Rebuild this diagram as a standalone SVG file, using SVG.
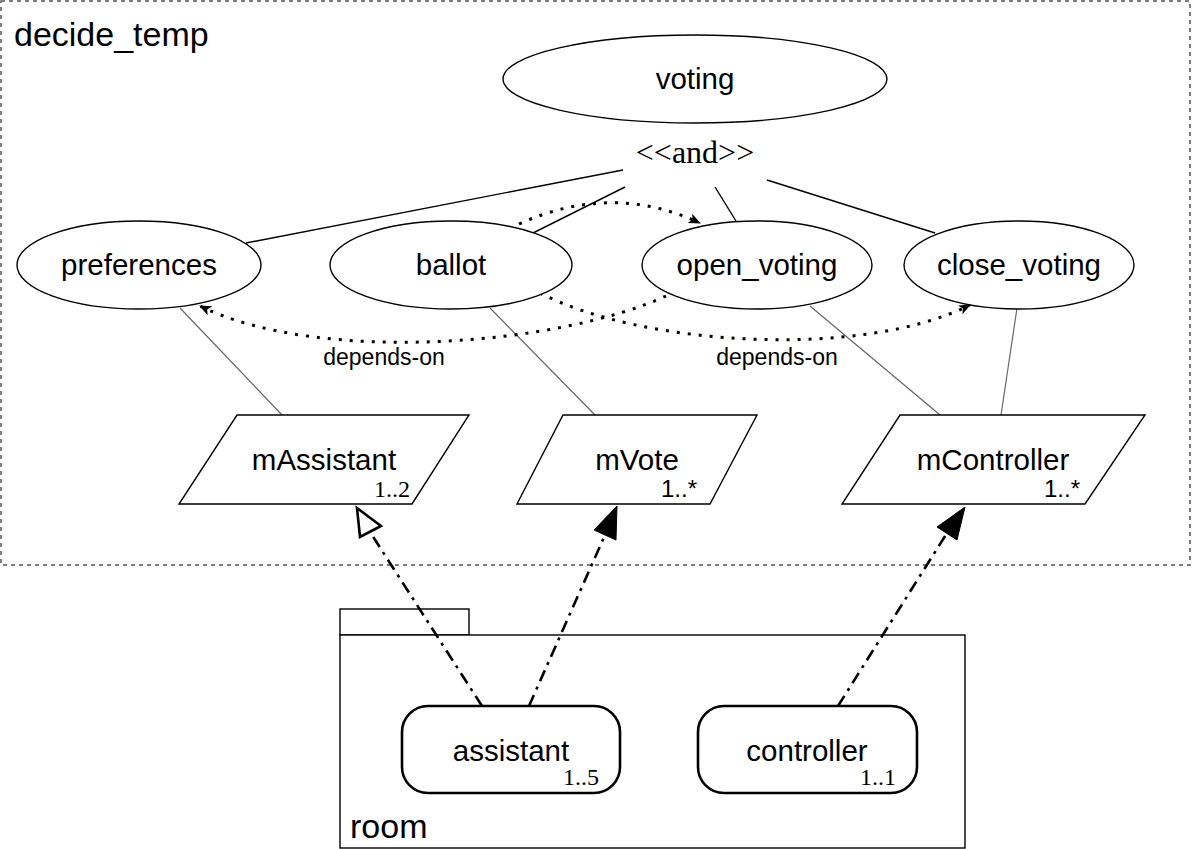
<svg xmlns="http://www.w3.org/2000/svg" width="1193" height="849" viewBox="0 0 1193 849">
  <style>
    .sans { font-family: "Liberation Sans", Arial, sans-serif; fill: #000; }
    .serif { font-family: "Liberation Serif", "Times New Roman", serif; fill: #000; }
    .lbl { font-size: 29.5px; text-anchor: middle; }
    .mult { font-size: 24px; text-anchor: end; }
    .shape { fill: #fff; stroke: #000; stroke-width: 1.4; }
    .assoc { stroke: #000; stroke-width: 1.4; fill: none; }
    .bind { stroke: #666; stroke-width: 1.2; fill: none; }
    .dep { stroke: #000; stroke-width: 3; fill: none; stroke-dasharray: 3 8; }
    .real { stroke: #000; stroke-width: 2.6; fill: none; stroke-dasharray: 12 6 3 6; }
  </style>
  <defs>
    <marker id="depHead" viewBox="0 0 12 10" refX="11" refY="5" markerWidth="12" markerHeight="10" markerUnits="userSpaceOnUse" orient="auto">
      <path d="M0,0 L12,5 L0,10 L3,5 Z" fill="#000"/>
    </marker>
  </defs>

  <rect width="1193" height="849" fill="#fff"/>

  <!-- decide_temp boundary -->
  <g id="decide_temp">
    <rect x="1" y="1" width="1189" height="564" fill="none" stroke="#555" stroke-width="1.5" stroke-dasharray="4 4"/>
    <text class="sans" x="14" y="46" font-size="34">decide_temp</text>
  </g>

  <!-- room package -->
  <g id="room">
    <rect class="shape" x="340" y="609" width="129" height="26"/>
    <rect class="shape" x="340" y="635" width="625" height="213"/>
    <text class="sans" x="350" y="838" font-size="34">room</text>
  </g>

  <!-- connectors -->
  <g id="connectors">
    <!-- and-decomposition -->
    <line class="assoc" x1="623" y1="170" x2="246" y2="243"/>
    <line class="assoc" x1="625" y1="187" x2="527" y2="236"/>
    <line class="assoc" x1="715" y1="187" x2="736" y2="221"/>
    <line class="assoc" x1="767" y1="180" x2="935" y2="233"/>
    <!-- role bindings -->
    <line class="bind" x1="180" y1="308" x2="282" y2="415"/>
    <line class="bind" x1="490" y1="308" x2="595" y2="415"/>
    <line class="bind" x1="810" y1="306" x2="940" y2="415"/>
    <line class="bind" x1="1017" y1="308" x2="1001" y2="415"/>
    <!-- depends-on -->
    <path class="dep" d="M519,224 Q612,182 700,223" marker-end="url(#depHead)"/>
    <path class="dep" d="M666,296 C560,345 320,365 200,306" marker-end="url(#depHead)"/>
    <path class="dep" d="M540,293 C640,345 860,360 970,305" marker-end="url(#depHead)"/>
    <text class="sans" x="384" y="365" font-size="23" text-anchor="middle">depends-on</text>
    <text class="sans" x="777" y="365" font-size="23" text-anchor="middle">depends-on</text>
    <!-- realizations -->
    <line class="real" x1="482" y1="706" x2="370" y2="532"/>
    <polygon points="357,508 360,537 381,526" fill="#fff" stroke="#000" stroke-width="2.6" stroke-linejoin="miter"/>
    <line class="real" x1="529" y1="706" x2="605" y2="535"/>
    <polygon points="617,506 594,530 616,540" fill="#000" stroke="#000" stroke-width="1"/>
    <line class="real" x1="838" y1="706" x2="947" y2="533"/>
    <polygon points="965,507 937,527 957,540" fill="#000" stroke="#000" stroke-width="1"/>
  </g>

  <!-- goals -->
  <g id="voting">
    <ellipse class="shape" cx="695" cy="79" rx="192" ry="44"/>
    <text class="sans lbl" x="695" y="89" font-size="30">voting</text>
  </g>
  <g id="and_label">
    <text class="serif" x="695" y="163" font-size="32" text-anchor="middle">&lt;&lt;and&gt;&gt;</text>
  </g>
  <g id="preferences">
    <ellipse class="shape" cx="139" cy="265" rx="122" ry="44"/>
    <text class="sans lbl" x="139" y="275">preferences</text>
  </g>
  <g id="ballot">
    <ellipse class="shape" cx="451" cy="265" rx="121" ry="44"/>
    <text class="sans lbl" x="451" y="275">ballot</text>
  </g>
  <g id="open_voting">
    <ellipse class="shape" cx="757" cy="265" rx="115" ry="44"/>
    <text class="sans lbl" x="757" y="275">open_voting</text>
  </g>
  <g id="close_voting">
    <ellipse class="shape" cx="1019" cy="265" rx="115" ry="44"/>
    <text class="sans lbl" x="1019" y="275">close_voting</text>
  </g>

  <!-- roles -->
  <g id="mAssistant">
    <polygon class="shape" points="237,415 469,415 412,504 179,504"/>
    <text class="sans lbl" x="324" y="470">mAssistant</text>
    <text class="serif mult" x="410" y="497">1..2</text>
  </g>
  <g id="mVote">
    <polygon class="shape" points="563,415 757,415 710,504 517,504"/>
    <text class="sans lbl" x="637" y="470">mVote</text>
    <text class="sans mult" x="697" y="497" font-size="21">1..*</text>
  </g>
  <g id="mController">
    <polygon class="shape" points="900,415 1145,415 1085,504 842,504"/>
    <text class="sans lbl" x="993" y="470">mController</text>
    <text class="sans mult" x="1080" y="497" font-size="21">1..*</text>
  </g>

  <!-- room members -->
  <g id="assistant">
    <rect x="402" y="706" width="218" height="87" rx="26" fill="#fff" stroke="#000" stroke-width="2.6"/>
    <text class="sans lbl" x="511" y="761">assistant</text>
    <text class="serif mult" x="599" y="785">1..5</text>
  </g>
  <g id="controller">
    <rect x="698" y="706" width="219" height="87" rx="26" fill="#fff" stroke="#000" stroke-width="2.6"/>
    <text class="sans lbl" x="807" y="761">controller</text>
    <text class="serif mult" x="896" y="785">1..1</text>
  </g>
</svg>
